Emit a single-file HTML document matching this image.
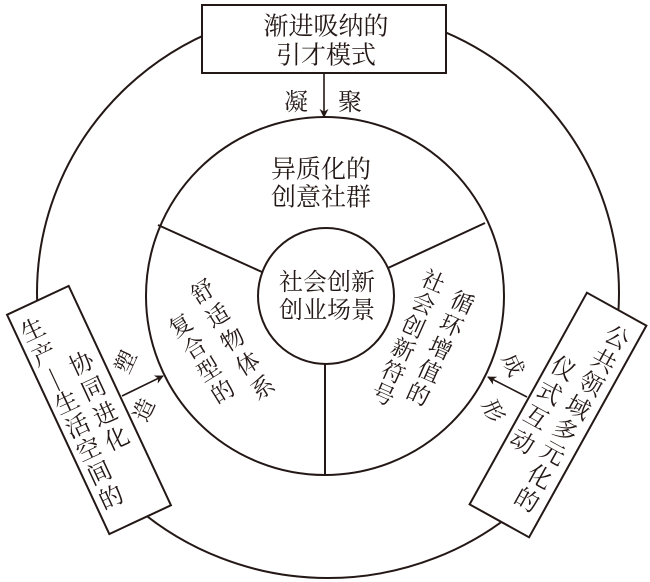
<!DOCTYPE html>
<html><head><meta charset="utf-8"><style>
html,body{margin:0;padding:0;background:#fff;}
svg{display:block;}
text{font-family:"Liberation Serif","Noto Serif CJK SC","Noto Sans CJK SC",serif;fill:#231815;}
</style></head><body>
<svg width="650" height="582" viewBox="0 0 650 582" xmlns="http://www.w3.org/2000/svg">
<defs>
<marker id="ah" viewBox="0 0 10 10" refX="9" refY="5" markerWidth="9" markerHeight="9" orient="auto" markerUnits="userSpaceOnUse">
<path d="M0,0 L10,5 L0,10 L3,5 z" fill="#231815"/>
</marker>
</defs>
<g stroke="#231815" stroke-width="2" fill="none">
<ellipse cx="328" cy="293" rx="291" ry="285"/>
<circle cx="325" cy="296" r="179"/>
<line x1="158" y1="225" x2="262" y2="272"/>
<line x1="388" y1="268" x2="485" y2="223"/>
<line x1="325" y1="364" x2="325" y2="475"/>
</g>
<circle cx="326" cy="296" r="68" fill="#fff" stroke="#231815" stroke-width="2"/>

<!-- top box -->
<rect x="202" y="5" width="244" height="68" fill="#fff" stroke="#231815" stroke-width="2"/>
<text x="326" y="27" font-size="25" text-anchor="middle" dominant-baseline="central">渐进吸纳的</text>
<text x="326" y="56" font-size="25" text-anchor="middle" dominant-baseline="central">引才模式</text>
<line x1="324" y1="73" x2="324" y2="117" stroke="#231815" stroke-width="1.6" marker-end="url(#ah)"/>
<text x="296" y="103" font-size="24" text-anchor="middle" dominant-baseline="central">凝</text>
<text x="350" y="103" font-size="24" text-anchor="middle" dominant-baseline="central">聚</text>

<text x="321" y="170" font-size="25" text-anchor="middle" dominant-baseline="central">异质化的</text>
<text x="321" y="198" font-size="25" text-anchor="middle" dominant-baseline="central">创意社群</text>

<text x="327" y="283" font-size="24" text-anchor="middle" dominant-baseline="central">社会创新</text>
<text x="327" y="311" font-size="24" text-anchor="middle" dominant-baseline="central">创业场景</text>

<!-- left sector -->
<g font-size="23" text-anchor="middle" dominant-baseline="central">
<text transform="translate(203,292) rotate(-32)">舒</text>
<text transform="translate(218,316) rotate(-32)">适</text>
<text transform="translate(233,340) rotate(-32)">物</text>
<text transform="translate(248,364) rotate(-32)">体</text>
<text transform="translate(263,388) rotate(-32)">系</text>
<text transform="translate(181,326) rotate(-32)">复</text>
<text transform="translate(195,348) rotate(-32)">合</text>
<text transform="translate(209,370) rotate(-32)">型</text>
<text transform="translate(223,392) rotate(-32)">的</text>
</g>
<!-- right sector -->
<g font-size="23" text-anchor="middle" dominant-baseline="central">
<text transform="translate(462,303) rotate(24)">循</text>
<text transform="translate(451,326) rotate(24)">环</text>
<text transform="translate(440,349) rotate(24)">增</text>
<text transform="translate(429,372) rotate(24)">值</text>
<text transform="translate(418,395) rotate(24)">的</text>
<text transform="translate(433,282) rotate(24)">社</text>
<text transform="translate(423,304) rotate(24)">会</text>
<text transform="translate(413,327) rotate(24)">创</text>
<text transform="translate(403,350) rotate(24)">新</text>
<text transform="translate(393,373) rotate(24)">符</text>
<text transform="translate(383,395) rotate(24)">号</text>
</g>

<!-- left box -->
<g transform="translate(89,410) rotate(-25)">
<rect x="-34" y="-121" width="68" height="242" fill="#fff" stroke="#231815" stroke-width="2"/>
<g font-size="24" text-anchor="middle" dominant-baseline="central">
<text x="-17" y="-95">生</text>
<text x="-17" y="-68">产</text>
<text x="-17" y="-42" transform="rotate(90,-17,-42)">—</text>
<text x="-17" y="-15">生</text>
<text x="-17" y="11">活</text>
<text x="-17" y="37">空</text>
<text x="-17" y="63">间</text>
<text x="-17" y="90">的</text>
<text x="13" y="-44">协</text>
<text x="13" y="-16">同</text>
<text x="13" y="12">进</text>
<text x="13" y="39">化</text>
</g>
</g>
<line x1="122" y1="396" x2="163" y2="376" stroke="#231815" stroke-width="1.6" marker-end="url(#ah)"/>
<text transform="translate(126,362) rotate(-65)" font-size="22" text-anchor="middle" dominant-baseline="central">塑</text>
<text transform="translate(144,410) rotate(-65)" font-size="22" text-anchor="middle" dominant-baseline="central">造</text>

<!-- right box -->
<g transform="translate(558,415) rotate(29)">
<rect x="-34" y="-121" width="68" height="242" fill="#fff" stroke="#231815" stroke-width="2"/>
<g font-size="24" text-anchor="middle" dominant-baseline="central">
<text x="14" y="-95">公</text>
<text x="14" y="-68">共</text>
<text x="14" y="-42">领</text>
<text x="14" y="-15">域</text>
<text x="14" y="11">多</text>
<text x="14" y="37">元</text>
<text x="14" y="64">化</text>
<text x="14" y="91">的</text>
<text x="-18" y="-42">仪</text>
<text x="-18" y="-14">式</text>
<text x="-18" y="14">互</text>
<text x="-18" y="42">动</text>
</g>
</g>
<line x1="527" y1="397" x2="488" y2="377" stroke="#231815" stroke-width="1.6" marker-end="url(#ah)"/>
<text transform="translate(513,365) rotate(65)" font-size="22" text-anchor="middle" dominant-baseline="central">成</text>
<text transform="translate(493,411) rotate(65)" font-size="22" text-anchor="middle" dominant-baseline="central">形</text>
</svg>
</body></html>
